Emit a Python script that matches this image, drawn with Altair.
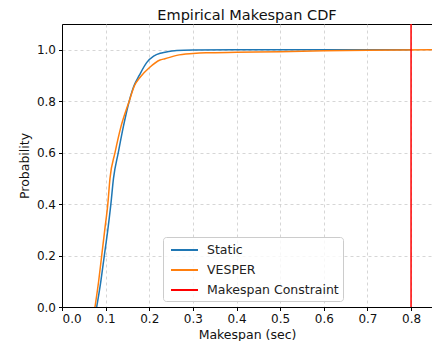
import altair as alt
import pandas as pd

static_x = [0.0795, 0.089, 0.097, 0.105, 0.112, 0.118, 0.129, 0.1405, 0.154, 0.165, 0.177, 0.194, 0.21, 0.225, 0.236, 0.263, 0.3, 0.4, 0.6, 0.8]
static_p = [0, 0.1, 0.2, 0.3, 0.4, 0.5, 0.6, 0.7, 0.8, 0.86, 0.9, 0.95, 0.975, 0.986, 0.99, 0.997, 0.999, 1.0, 1.0, 1.0]

vesper_x = [0.0756, 0.084, 0.091, 0.098, 0.105, 0.110, 0.1215, 0.135, 0.154, 0.166, 0.18, 0.2, 0.2246, 0.236, 0.263, 0.3, 0.33, 0.4, 0.5, 0.6, 0.7, 0.862]
vesper_p = [0, 0.1, 0.2, 0.3, 0.4, 0.5, 0.6, 0.7, 0.8, 0.86, 0.895, 0.93, 0.96, 0.965, 0.978, 0.985, 0.988, 0.99, 0.992, 0.996, 0.998, 1.0]

constraint = [0.8]
series = ["Static", "VESPER", "Makespan Constraint"]
colors = ["#1f77b4", "#ff7f0e", "#ff0000"]
x_ticks = [0.0, 0.1, 0.2, 0.3, 0.4, 0.5, 0.6, 0.7, 0.8]
y_ticks = [0.0, 0.2, 0.4, 0.6, 0.8, 1.0]

rows = []
for i, (x, p) in enumerate(zip(static_x, static_p)):
    rows.append({"series": "Static", "x": x, "p": p, "o": i})
for i, (x, p) in enumerate(zip(vesper_x, vesper_p)):
    rows.append({"series": "VESPER", "x": x, "p": p, "o": i})
lines_df = pd.DataFrame(rows)
rule_df = pd.DataFrame({"x": constraint, "series": ["Makespan Constraint"]})

color = alt.Color(
    "series:N",
    scale=alt.Scale(domain=series, range=colors),
    legend=alt.Legend(
        title=None,
        orient="none",
        legendX=101,
        legendY=213,
        symbolType="M-0.625,0L2.75,0",
        symbolSize=256,
        symbolStrokeWidth=2,
        labelFontSize=12.5,
        labelFont="DejaVu Sans",
        labelColor="#222",
        rowPadding=4,
        padding=4,
        fillColor="rgba(255,255,255,0.8)",
        strokeColor="#cccccc",
        cornerRadius=3,
        labelOffset=22,
    ),
)

xscale = alt.Scale(domain=[0, 0.848], nice=False, zero=False)
yscale = alt.Scale(domain=[0, 1.1], nice=False)

xaxis = alt.Axis(values=x_ticks, format=".1f", title="Makespan (sec)", titlePadding=4)
yaxis = alt.Axis(values=y_ticks, format=".1f", title="Probability", titlePadding=5)

lines = alt.Chart(lines_df).mark_line(strokeWidth=1.5, interpolate="monotone", clip=True).encode(
    x=alt.X("x:Q", scale=xscale, axis=xaxis),
    y=alt.Y("p:Q", scale=yscale, axis=yaxis),
    color=color,
    order="o:Q",
)

rule = alt.Chart(rule_df).mark_rule(strokeWidth=1.5).encode(
    x=alt.X("x:Q", scale=xscale),
    color=color,
)

chart = (
    alt.layer(lines, rule)
    .properties(
        width=370,
        height=283,
        title=alt.TitleParams(
            "Empirical Makespan CDF",
            fontSize=14.5,
            font="DejaVu Sans",
            fontWeight="normal",
            color="#111",
            offset=0,
        ),
        autosize=alt.AutoSizeParams(type="none"),
        padding={"left": 54, "top": 16, "right": 0, "bottom": 34},
    )
    .configure_view(stroke="#000", strokeWidth=1)
    .configure_axis(
        grid=True,
        gridColor="#cccccc",
        gridDash=[3, 3],
        gridWidth=0.8,
        domainColor="#000",
        tickColor="#000",
        tickSize=3.5,
        labelFont="DejaVu Sans",
        labelFontSize=12,
        labelColor="#111",
        titleFont="DejaVu Sans",
        titleFontSize=12.5,
        titleFontWeight="normal",
        titleColor="#111",
        labelPadding=3,
    )
)

chart.save("out.html", embed_options={"renderer": "svg", "actions": False})
